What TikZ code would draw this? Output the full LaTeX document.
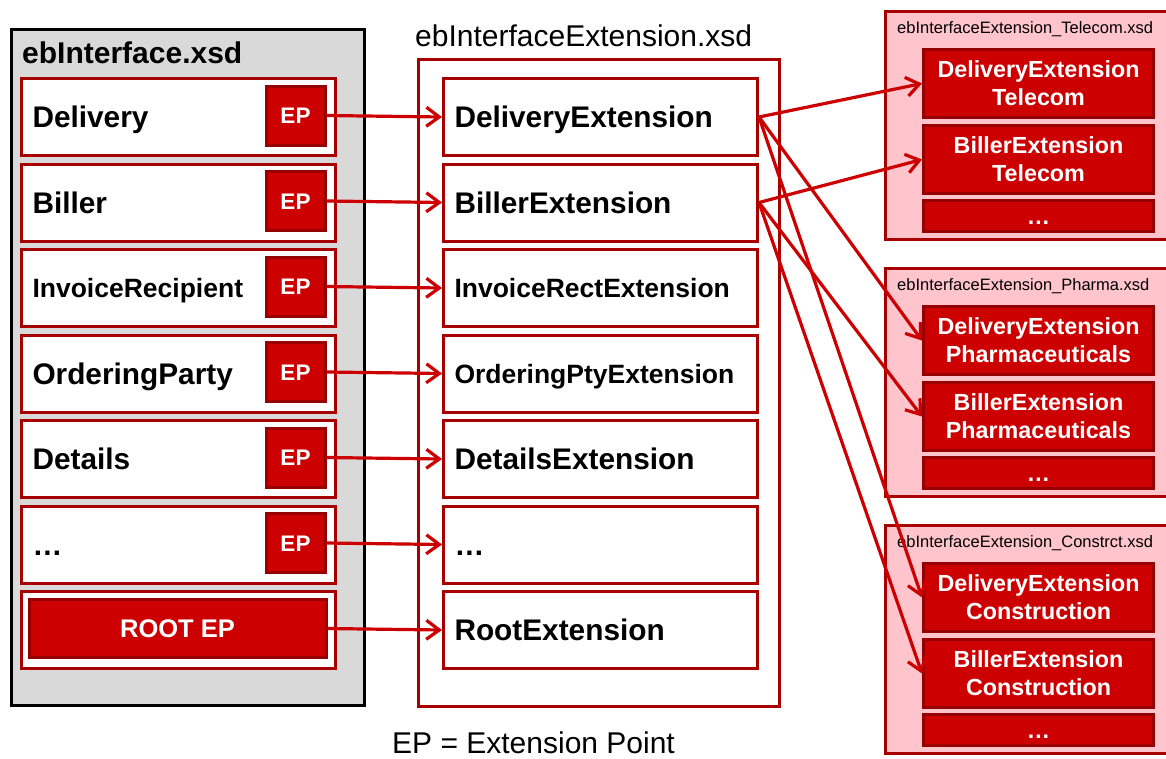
\documentclass[tikz,border=0pt]{standalone}
\usepackage{fontspec}
\setmainfont{Liberation Sans}
\usetikzlibrary{arrows.meta}
\definecolor{epred}{RGB}{204,0,0}
\definecolor{dred}{RGB}{168,0,0}
\definecolor{bdred}{RGB}{150,0,0}
\definecolor{pinkbg}{RGB}{255,196,204}
\definecolor{graybg}{RGB}{217,217,217}
\tikzset{
  rowbox/.style={draw=dred, line width=3pt, fill=white, anchor=north west,
    minimum width=314pt, minimum height=77pt, text width=292pt, inner xsep=11pt,
    inner ysep=0pt, align=left, text height=21.4pt, text depth=0pt,
    font=\bfseries\fontsize{29.8}{34}\selectfont},
  smalltext/.style={font=\bfseries\fontsize{26.5}{30}\selectfont, text height=19pt},
  epbox/.style={draw=bdred, line width=3pt, fill=epred, text=white,
    minimum width=59pt, minimum height=59pt, inner sep=0pt,
    font=\bfseries\fontsize{22.5}{26}\selectfont, text height=16.1pt, text depth=0pt},
  pinkbox/.style={draw=dred, line width=3pt, fill=pinkbg, anchor=north west,
    minimum width=290pt, minimum height=228pt, inner sep=0pt},
  redbox/.style={draw=bdred, line width=3pt, fill=epred, text=white, anchor=north west,
    minimum width=230pt, minimum height=68pt, inner sep=0pt, align=center,
    font=\bfseries\fontsize{23.3}{28}\selectfont},
  dotsbox/.style={redbox, minimum height=31pt, text height=16.7pt, text depth=0pt},
  ptitle/.style={anchor=base west, inner sep=0pt, font=\fontsize{16.5}{18}\selectfont},
  bigtitle/.style={anchor=base west, inner sep=0pt, font=\fontsize{30}{34}\selectfont},
  conn/.style={draw=epred, line width=3.2pt, -{Straight Barb[length=13pt,width=19pt]}},
}
\begin{document}
\begin{tikzpicture}[x=1pt,y=-1pt]
\useasboundingbox (0,0) rectangle (1166,758);

% left container
\node[draw=black, line width=3pt, fill=graybg, anchor=north west, minimum width=353pt,
  minimum height=676pt, inner sep=0pt] (base) at (10,28) {};
\node[bigtitle, font=\bfseries\fontsize{30}{34}\selectfont] (basetitle) at (22,63) {ebInterface.xsd};

\node[rowbox] (l1) at (20,77) {Delivery};
\node[rowbox] (l2) at (20,162.5) {Biller};
\node[rowbox, smalltext] (l3) at (20,248) {InvoiceRecipient};
\node[rowbox] (l4) at (20,333.5) {OrderingParty};
\node[rowbox] (l5) at (20,419) {Details};
\node[rowbox] (l6) at (20,504.5) {…};
\node[rowbox] (l7) at (20,590) {};

\node[epbox] (ep1) at (295.5,115.5) {EP};
\node[epbox] (ep2) at (295.5,201) {EP};
\node[epbox] (ep3) at (295.5,286.5) {EP};
\node[epbox] (ep4) at (295.5,372) {EP};
\node[epbox] (ep5) at (295.5,457.5) {EP};
\node[epbox] (ep6) at (295.5,543) {EP};
\node[epbox, minimum width=297pt, minimum height=58pt,
  font=\bfseries\fontsize{25.5}{30}\selectfont, text height=18.3pt] (ep7) at (177.5,628.5) {ROOT EP};

% middle container
\node[draw=dred, line width=3pt, fill=white, anchor=north west, minimum width=361pt,
  minimum height=647pt, inner sep=0pt] (ext) at (417,58) {};
\node[bigtitle] (exttitle) at (415,46) {ebInterfaceExtension.xsd};

\node[rowbox] (m1) at (442,77) {DeliveryExtension};
\node[rowbox] (m2) at (442,162.5) {BillerExtension};
\node[rowbox, smalltext] (m3) at (442,248) {InvoiceRectExtension};
\node[rowbox, smalltext] (m4) at (442,333.5) {OrderingPtyExtension};
\node[rowbox] (m5) at (442,419) {DetailsExtension};
\node[rowbox] (m6) at (442,504.5) {…};
\node[rowbox] (m7) at (442,590) {RootExtension};

% right containers
\node[pinkbox] (tel) at (884,10) {};
\node[ptitle] (teltitle) at (897,33) {ebInterfaceExtension\_Telecom.xsd};
\node[redbox] (telD) at (922,48) {DeliveryExtension\\Telecom};
\node[redbox] (telB) at (922,124) {BillerExtension\\Telecom};
\node[dotsbox] (telX) at (922,199) {…};

\node[pinkbox] (pha) at (884,267) {};
\node[ptitle] (phatitle) at (897,290) {ebInterfaceExtension\_Pharma.xsd};
\node[redbox] (phaD) at (922,305) {DeliveryExtension\\Pharmaceuticals};
\node[redbox] (phaB) at (922,381) {BillerExtension\\Pharmaceuticals};
\node[dotsbox] (phaX) at (922,456) {…};

\node[pinkbox] (con) at (884,524) {};
\node[ptitle] (contitle) at (897,547) {ebInterfaceExtension\_Constrct.xsd};
\node[redbox] (conD) at (922,562) {DeliveryExtension\\Construction};
\node[redbox] (conB) at (922,638) {BillerExtension\\Construction};
\node[dotsbox] (conX) at (922,713) {…};

\node[bigtitle] (legend) at (392,753) {EP = Extension Point};

% connectors
\foreach \i in {1,...,7} {\draw[conn] (ep\i.east) -- (m\i.west);}
\draw[conn] (m1.east) -- (telD.west);
\draw[conn] (m1.east) -- (phaD.west);
\draw[conn] (m1.east) -- (conD.west);
\draw[conn] (m2.east) -- (telB.west);
\draw[conn] (m2.east) -- (phaB.west);
\draw[conn] (m2.east) -- (conB.west);
\end{tikzpicture}
\end{document}
